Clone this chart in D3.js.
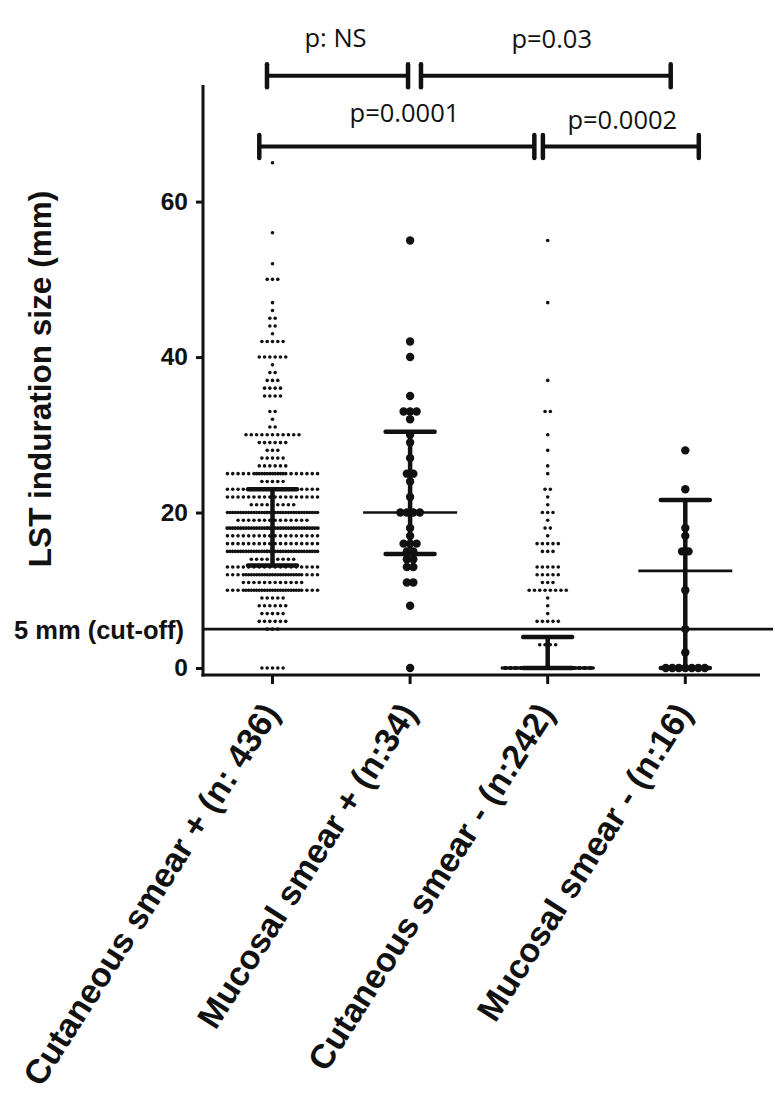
<!DOCTYPE html>
<html><head><meta charset="utf-8">
<script src="https://cdn.jsdelivr.net/npm/d3@7/dist/d3.min.js"></script>
<style>html,body{margin:0;padding:0;background:#fff;}svg{display:block;}</style>
</head><body>
<div id="chart"></div>
<script>
// ---------- data ----------
const groups = ["Cutaneous smear + (n: 436)", "Mucosal smear + (n:34)", "Cutaneous smear - (n:242)", "Mucosal smear - (n:16)"];

const cutPosValues = [65,56,52,50,47,46,45,44,43,42,40,39,38,37,36,35,33,32,31,30,29,28,27,26,25,24,23,22,21,20,19,18,17,16,15,14,13,12,11,10,9,8,7,6,5,0];
const cutPosCounts = [1,1,1,3,1,1,2,2,1,5,6,1,2,3,4,4,2,1,2,11,6,3,5,6,24,5,18,18,9,37,14,37,18,18,37,9,18,29,12,29,5,6,5,6,3,5];

const mucPosValues = [55,42,40,35,33,32,30,29,27,25,24,22,20,18,17,16,15,14,13,11,8,0];
const mucPosCounts = [1,1,1,1,3,1,1,1,1,2,1,1,4,1,1,3,2,2,2,2,1,1];

const cutNegValues = [55,47,37,33,30,28,26,25,23,22,21,20,19,18,17,16,15,13,12,11,10,9,8,7,6,3,0];
const cutNegCounts = [1,1,1,2,1,1,1,1,2,1,1,3,1,2,1,5,3,5,5,3,8,1,1,1,5,4,181];

const mucNegValues = [28,23,18,17,15,10,5,2,0];
const mucNegCounts = [1,1,1,1,2,1,1,1,7];

// central line and error bar ends per group
const centerVals = [18, 20, 0, 12.5];
const upperVals  = [23, 30.4, 4, 21.6];
const lowerVals  = [13.2, 14.65, 0, 0];

const yTicks = [0, 20, 40, 60];
const cutoffValue = 5;
const cutoffLabel = "5 mm (cut-off)";
const yTitle = "LST induration size (mm)";

// significance brackets (positions in group-index units, levels in mm)
const bracketFrom  = [-0.04, 1.079, -0.096, 1.965];
const bracketTo    = [0.985, 2.894, 1.903, 3.098];
const bracketLevel = [76.2, 76.2, 67.1, 67.1];
const pLabels      = ["p: NS", "p=0.03", "p=0.0001", "p=0.0002"];
const pLabelPos    = [0.458, 2.029, 0.959, 2.542];
const pLabelLevel  = [79.9, 79.7, 70.3, 69.4];

// ---------- drawing ----------
const W = 775, H = 1119;
const svg = d3.select("#chart").append("svg").attr("width", W).attr("height", H);
svg.append("rect").attr("width", W).attr("height", H).attr("fill", "#fff");

const axisX0 = 203, axisX1 = 760;
const y = d3.scaleLinear().domain([-0.9, 75]).range([675, 85]);
const x = d3.scaleBand().domain(groups).range([203.7, 754.1]).padding(0);
const cx = g => x(g) + x.bandwidth() / 2;
const xi = d3.scaleLinear().domain([0, 3]).range([cx(groups[0]), cx(groups[3])]);

const series = [
  {v: cutPosValues, c: cutPosCounts, r: 1.8, s: 5.3, K: 18},
  {v: mucPosValues, c: mucPosCounts, r: 4.2, s: 6.5, K: 20},
  {v: cutNegValues, c: cutNegCounts, r: 1.8, s: 5.3, K: 18},
  {v: mucNegValues, c: mucNegCounts, r: 4.2, s: 6.5, K: 20}
];

function rowOffsets(n, s, K) {
  const m = Math.min(n, K);
  const out = [];
  for (let i = 0; i < m; i++) out.push((i - (m - 1) / 2) * s);
  const mids = [];
  for (let i = 0; i < K - 1; i++) mids.push((i - (K - 2) / 2) * s);
  mids.sort((a, b) => Math.abs(a) - Math.abs(b));
  for (let i = 0; i < n - m; i++) out.push(mids[i % mids.length]);
  return out;
}

const dotsG = svg.append("g");
series.forEach((sr, gi) => {
  const pts = [];
  sr.v.forEach((val, k) => {
    rowOffsets(sr.c[k], sr.s, sr.K).forEach(o => pts.push({val, o}));
  });
  dotsG.selectAll(null).data(pts).enter().append("circle")
    .attr("cx", d => cx(groups[gi]) + d.o)
    .attr("cy", d => y(d.val))
    .attr("r", sr.r)
    .attr("fill", "#111");
});

// error bars
const barG = svg.append("g").attr("stroke", "#111").attr("fill", "none");
groups.forEach((g, i) => {
  const c = cx(g);
  barG.append("line").attr("x1", c).attr("x2", c)
    .attr("y1", y(upperVals[i])).attr("y2", y(lowerVals[i])).attr("stroke-width", 4.5);
  barG.append("line").attr("x1", c - 24.5).attr("x2", c + 24.5)
    .attr("y1", y(upperVals[i])).attr("y2", y(upperVals[i])).attr("stroke-width", 4.5).attr("stroke-linecap", "round");
  barG.append("line").attr("x1", c - 24.5).attr("x2", c + 24.5)
    .attr("y1", y(lowerVals[i])).attr("y2", y(lowerVals[i])).attr("stroke-width", 4.5).attr("stroke-linecap", "round");
  barG.append("line").attr("x1", c - 47).attr("x2", c + 47)
    .attr("y1", y(centerVals[i])).attr("y2", y(centerVals[i])).attr("stroke-width", 2.6);
});

// cut-off line
svg.append("line").attr("x1", axisX0).attr("x2", 773)
  .attr("y1", y(cutoffValue)).attr("y2", y(cutoffValue))
  .attr("stroke", "#111").attr("stroke-width", 2.6);
svg.append("text").attr("x", 14).attr("y", y(cutoffValue) + 10)
  .attr("font-family", "Liberation Sans, Arial, sans-serif").attr("font-weight", "bold")
  .attr("font-size", 25.5).attr("fill", "#111").text(cutoffLabel);

// y axis
const yAxis = d3.axisLeft(y).tickValues(yTicks).tickSize(7).tickPadding(8).tickFormat(d3.format("d"));
const yg = svg.append("g").attr("transform", `translate(${axisX0},0)`).call(yAxis);
yg.select(".domain").remove();
yg.selectAll(".tick line").attr("stroke", "#111").attr("stroke-width", 3);
yg.selectAll(".tick text").attr("font-family", "Liberation Sans, Arial, sans-serif")
  .attr("font-weight", "bold").attr("font-size", 24.5).attr("fill", "#111");
svg.append("line").attr("x1", axisX0).attr("x2", axisX0).attr("y1", y.range()[1]).attr("y2", y.range()[0] + 1.5)
  .attr("stroke", "#111").attr("stroke-width", 3);

// x axis
const xAxis = d3.axisBottom(x).tickSize(9).tickFormat("");
const xg = svg.append("g").attr("transform", `translate(0,${y.range()[0]})`).call(xAxis);
xg.select(".domain").remove();
xg.selectAll(".tick line").attr("stroke", "#111").attr("stroke-width", 3);
svg.append("line").attr("x1", axisX0 - 1.5).attr("x2", axisX1).attr("y1", y.range()[0]).attr("y2", y.range()[0])
  .attr("stroke", "#111").attr("stroke-width", 3);

// x labels (rotated)
svg.append("g").selectAll("text").data(groups).enter().append("text")
  .attr("transform", d => `translate(${cx(d) + 8},${713}) rotate(-57.5)`)
  .attr("text-anchor", "end")
  .attr("font-family", "Liberation Sans, Arial, sans-serif").attr("font-weight", "bold")
  .attr("font-size", 34).attr("fill", "#111").text(d => d);

// y title
svg.append("text").attr("transform", `translate(51,379) rotate(-90)`)
  .attr("text-anchor", "middle")
  .attr("font-family", "Liberation Sans, Arial, sans-serif").attr("font-weight", "bold")
  .attr("font-size", 31.5).attr("fill", "#111").text(yTitle);

// brackets
const brG = svg.append("g").attr("stroke", "#111");
bracketFrom.forEach((f, i) => {
  const x1 = xi(f), x2 = xi(bracketTo[i]), yy = y(bracketLevel[i]);
  brG.append("line").attr("x1", x1).attr("x2", x2).attr("y1", yy).attr("y2", yy).attr("stroke-width", 4);
  [x1, x2].forEach(xx => brG.append("line").attr("x1", xx).attr("x2", xx)
    .attr("y1", yy - 11.5).attr("y2", yy + 11.5).attr("stroke-width", 4.5).attr("stroke-linecap", "round"));
});
svg.append("g").selectAll("text").data(pLabels).enter().append("text")
  .attr("x", (d, i) => xi(pLabelPos[i])).attr("y", (d, i) => y(pLabelLevel[i]))
  .attr("text-anchor", "middle").attr("font-family", "Open Sans, sans-serif")
  .attr("font-size", 25.5).attr("fill", "#111").text(d => d);
</script>
</body></html>
